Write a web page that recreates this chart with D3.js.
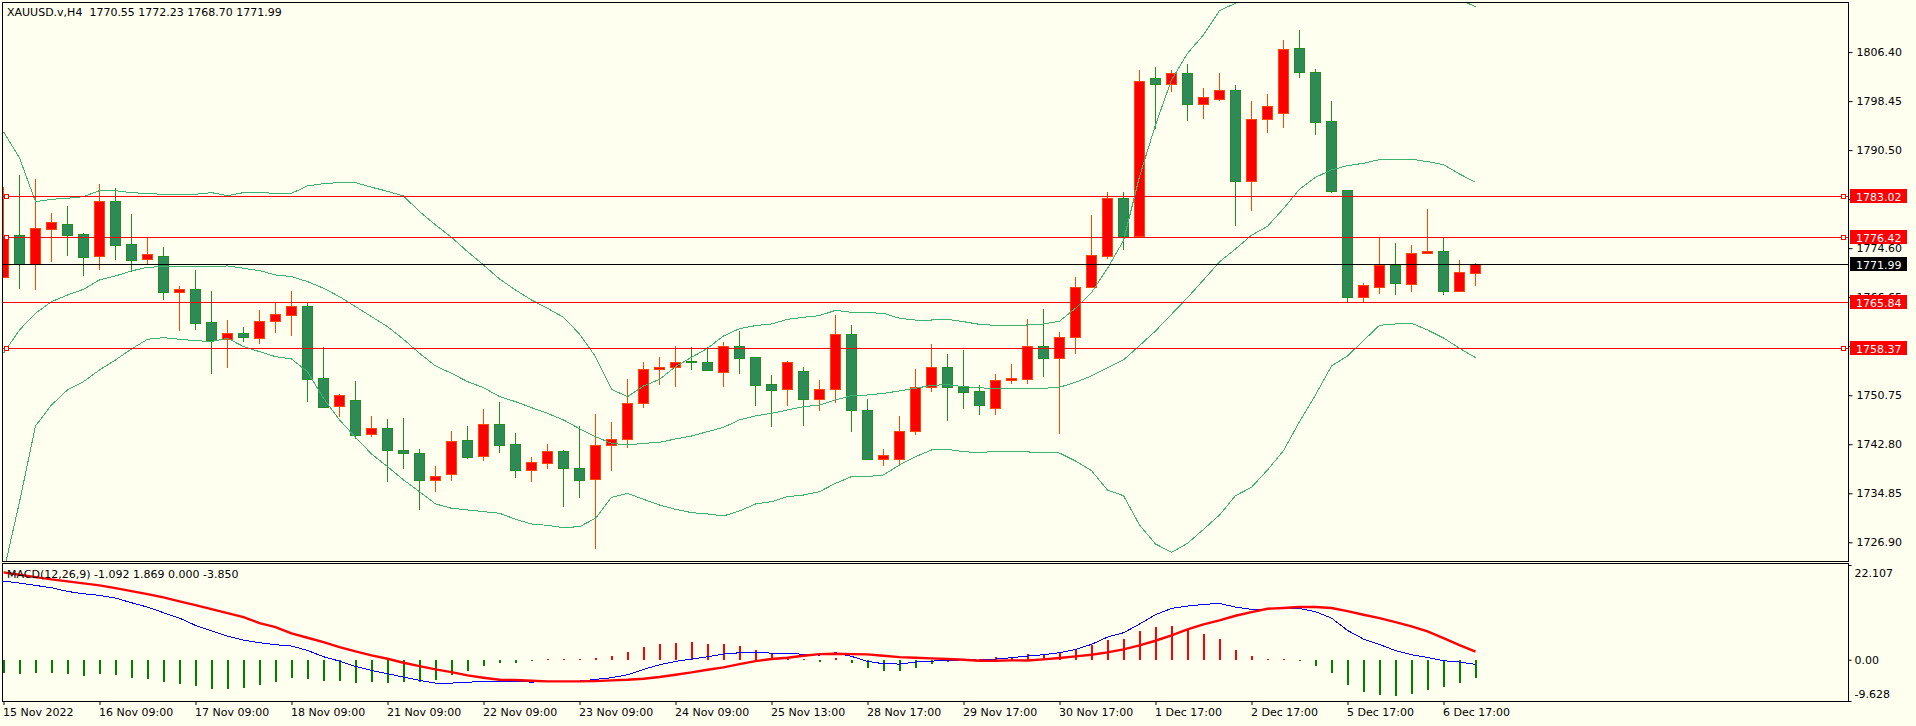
<!DOCTYPE html>
<html><head><meta charset="utf-8">
<script src="https://cdn.jsdelivr.net/npm/d3@7"></script>
<style>
html,body{margin:0;padding:0;background:#FFFFF0;overflow:hidden;}
svg{display:block;}
text{font-family:"DejaVu Sans",Verdana,sans-serif;font-size:11px;}
</style></head><body>
<svg id="c" width="1916" height="726"></svg>
<script>
// ---------- DATA ----------
const headerText = "XAUUSD.v,H4  1770.55 1772.23 1768.70 1771.99";
const macdHeaderText = "MACD(12,26,9) -1.092 1.869 0.000 -3.850";
const timeLabels = ["15 Nov 2022","16 Nov 09:00","17 Nov 09:00","18 Nov 09:00","21 Nov 09:00","22 Nov 09:00","23 Nov 09:00","24 Nov 09:00","25 Nov 13:00","28 Nov 17:00","29 Nov 17:00","30 Nov 17:00","1 Dec 17:00","2 Dec 17:00","5 Dec 17:00","6 Dec 17:00"];
const barsPerLabel = 6;
const priceTicks = [1806.40,1798.45,1790.50,1782.55,1774.60,1766.65,1758.70,1750.75,1742.80,1734.85,1726.90];
const macdTicks = [22.107,0,-9.628];
const macdTickLabels = ["22.107","0.00","-9.628"];
const levelPrices = [1783.02,1776.42,1765.84,1758.37];
const levelMarked = [true,true,false,true];
const bidPrice = 1771.99;

const openP = [1769.99,1776.69,1772.10,1777.77,1778.47,1776.85,1773.39,1782.20,1775.23,1772.80,
1773.28,1767.45,1767.93,1762.58,1759.93,1760.85,1759.99,1762.74,1763.72,1765.23,
1753.50,1748.96,1749.93,1744.42,1745.39,1741.82,1741.34,1737.06,1737.93,1743.44,
1740.85,1746.04,1742.79,1738.57,1739.82,1741.66,1738.90,1737.12,1742.63,1743.60,
1749.44,1754.95,1755.28,1756.25,1756.09,1754.58,1758.68,1756.90,1752.52,1751.71,
1754.63,1750.20,1751.71,1760.63,1748.31,1740.36,1740.36,1744.90,1752.03,1755.28,
1752.03,1751.39,1748.74,1753.18,1753.45,1758.69,1756.85,1760.15,1768.37,1773.40,
1782.69,1776.64,1802.16,1801.29,1802.97,1798.05,1798.86,1800.21,1785.56,1795.51,
1796.59,1807.02,1803.13,1795.18,1784.00,1766.75,1768.26,1771.83,1768.86,1773.77,
1774.10,1767.72,1770.55];
const highP = [1784.47,1786.47,1785.83,1780.37,1781.45,1777.07,1785.02,1784.37,1780.15,1776.31,
1774.80,1768.47,1771.07,1767.61,1762.96,1761.82,1764.58,1765.77,1767.66,1765.66,
1758.58,1750.96,1753.07,1747.39,1746.90,1747.07,1742.04,1739.34,1744.96,1745.77,
1748.53,1749.61,1744.57,1740.74,1742.84,1741.80,1745.76,1747.71,1746.41,1753.39,
1756.14,1756.95,1758.74,1758.58,1758.58,1759.39,1761.17,1756.90,1754.04,1756.31,
1755.33,1753.22,1763.77,1762.14,1750.14,1742.03,1747.39,1755.01,1759.06,1757.44,
1758.04,1752.36,1754.20,1755.83,1763.12,1764.75,1761.02,1769.94,1779.99,1783.72,
1783.72,1803.51,1803.99,1803.51,1804.48,1800.59,1803.02,1801.07,1798.48,1799.62,
1808.37,1809.99,1803.67,1798.48,1784.00,1769.02,1776.37,1775.45,1775.13,1780.96,
1776.37,1772.69,1772.23];
const lowP = [1769.90,1768.20,1768.04,1772.53,1773.50,1770.31,1771.28,1772.91,1770.85,1772.26,
1766.42,1761.39,1761.55,1754.42,1755.39,1759.61,1759.28,1761.07,1760.58,1749.88,
1748.90,1747.44,1743.88,1744.20,1736.90,1739.01,1732.36,1735.28,1737.01,1740.63,
1740.31,1741.61,1737.55,1736.90,1739.01,1732.84,1734.30,1726.03,1738.68,1742.41,
1748.90,1752.58,1752.31,1755.06,1754.90,1752.31,1754.41,1749.17,1745.82,1749.17,
1745.98,1748.41,1749.71,1745.01,1740.36,1739.44,1739.60,1744.47,1751.49,1746.79,
1748.74,1747.76,1747.76,1752.80,1752.80,1753.93,1744.69,1757.66,1768.26,1773.07,
1774.53,1776.37,1794.16,1800.16,1795.40,1795.78,1798.70,1778.37,1780.80,1793.45,
1794.26,1802.43,1793.13,1783.72,1766.04,1765.88,1767.34,1767.18,1767.67,1773.77,
1767.18,1767.72,1768.70];
const closeP = [1776.37,1771.99,1777.83,1778.80,1776.80,1773.23,1782.20,1775.18,1772.74,1773.61,
1767.45,1767.93,1762.53,1759.77,1760.80,1760.15,1762.74,1763.88,1765.23,1753.44,
1748.90,1750.74,1744.36,1745.39,1741.82,1741.34,1737.06,1737.60,1743.28,1740.79,
1746.04,1742.74,1738.57,1739.87,1741.66,1738.90,1737.06,1742.63,1743.60,1749.44,
1754.95,1755.28,1756.09,1756.09,1754.90,1758.68,1756.85,1752.47,1751.66,1756.09,
1750.20,1751.71,1760.63,1748.31,1740.36,1741.01,1744.90,1752.03,1755.28,1752.03,
1751.33,1749.22,1753.17,1753.50,1758.69,1756.85,1760.15,1768.26,1773.45,1782.69,
1776.64,1801.72,1801.29,1802.97,1798.05,1799.07,1800.21,1785.56,1795.51,1797.61,
1806.86,1803.24,1795.13,1783.94,1766.75,1768.58,1771.83,1769.02,1773.77,1774.10,
1767.72,1770.69,1771.99];

const bbUpper = [1793.50,1789.23,1782.15,1782.53,1782.69,1782.96,1783.93,1783.93,1783.61,1783.45,
1783.34,1783.34,1783.34,1783.61,1783.12,1783.61,1783.61,1783.50,1783.50,1784.69,
1785.07,1785.23,1785.23,1784.48,1783.83,1783.07,1780.53,1778.37,1776.37,1774.04,
1771.88,1769.60,1767.82,1766.20,1764.85,1763.39,1760.68,1757.01,1751.71,1750.52,
1752.25,1753.33,1755.39,1756.90,1758.36,1760.36,1761.55,1762.04,1762.31,1763.06,
1763.39,1763.66,1764.52,1764.20,1764.14,1764.04,1763.23,1762.95,1762.95,1763.06,
1762.68,1762.25,1762.09,1761.99,1762.15,1762.31,1762.75,1764.85,1767.40,1771.34,
1775.83,1786.21,1794.59,1801.89,1806.21,1809.18,1813.13,1814.32,1817.5,1817.7,
1820.3,1821.8,1821.4,1819.1,1818.9,1817.1,1815.8,1815.7,1815.6,1815.9,
1816.3,1814.9,1813.78];
const bbMiddle = [1757.55,1761.34,1764.04,1765.93,1767.01,1767.93,1769.45,1770.10,1770.91,1771.50,
1771.61,1771.61,1771.61,1771.61,1771.72,1771.34,1770.96,1770.26,1769.99,1769.18,
1768.10,1766.74,1765.12,1763.50,1761.88,1759.82,1757.55,1755.50,1754.31,1752.96,
1751.99,1750.53,1749.71,1748.74,1747.82,1746.74,1745.33,1744.03,1742.95,1742.68,
1742.95,1743.11,1743.66,1744.14,1744.84,1745.55,1746.74,1747.39,1747.82,1748.36,
1748.90,1749.17,1749.98,1750.68,1750.79,1751.06,1751.44,1751.87,1752.36,1752.47,
1752.14,1751.98,1751.76,1751.88,1751.88,1751.88,1752.04,1752.85,1753.88,1755.18,
1756.48,1758.80,1761.18,1763.88,1766.58,1769.45,1772.37,1774.48,1776.69,1778.15,
1781.02,1784.15,1786.10,1787.29,1787.99,1788.37,1788.97,1789.02,1789.02,1788.64,
1788.15,1786.64,1785.29];
const bbLower = [1722.00,1733.44,1745.77,1749.17,1751.61,1752.96,1754.85,1756.47,1758.26,1759.82,
1760.09,1759.82,1759.61,1759.45,1759.99,1758.64,1757.82,1757.01,1756.63,1754.58,
1750.26,1746.74,1743.93,1741.23,1739.17,1737.01,1735.12,1733.12,1732.42,1732.15,
1731.88,1731.61,1730.63,1729.87,1729.65,1729.28,1729.44,1730.79,1734.19,1734.84,
1733.87,1732.95,1732.25,1731.71,1731.49,1731.17,1731.98,1733.11,1733.49,1734.30,
1734.57,1735.11,1736.46,1737.55,1737.55,1737.82,1739.44,1740.79,1741.87,1741.98,
1741.60,1741.44,1741.66,1741.66,1741.55,1741.49,1741.38,1740.09,1738.52,1735.38,
1734.46,1729.71,1726.63,1725.27,1726.73,1729.00,1731.33,1734.46,1735.82,1738.63,
1741.76,1746.47,1750.80,1755.50,1757.12,1759.61,1762.10,1762.31,1762.42,1761.34,
1760.04,1758.37,1756.85];

const macdMain = [18.36,17.89,17.34,16.80,15.94,15.40,15.01,14.39,13.30,12.29,
10.97,9.72,8.01,6.77,5.52,4.59,3.97,3.50,3.19,2.18,
0.70,-0.31,-1.56,-2.49,-3.27,-4.04,-4.82,-5.44,-5.44,-5.29,
-4.98,-4.98,-5.13,-5.21,-5.13,-5.13,-4.98,-4.59,-4.20,-3.50,
-2.26,-1.17,-0.39,0.16,0.70,1.32,1.63,1.63,1.56,1.56,
1.24,1.09,1.63,0.78,-0.39,-0.93,-1.01,-0.54,-0.31,-0.23,
0.00,-0.08,0.16,0.47,0.86,1.17,1.63,2.41,3.58,5.29,
6.30,8.32,10.50,11.98,12.52,12.91,13.14,12.29,11.74,11.82,
12.13,11.98,11.20,9.72,6.84,4.82,3.58,2.10,1.17,0.54,
-0.23,-0.54,-1.092];
const macdSignal = [20.38,19.83,19.29,18.74,18.28,17.81,17.34,16.72,16.02,15.32,
14.54,13.61,12.76,11.82,10.89,9.96,8.56,7.62,6.14,5.13,
4.12,2.96,1.95,1.01,0.23,-0.70,-1.48,-2.26,-2.88,-3.66,
-4.20,-4.67,-4.74,-4.90,-5.06,-5.06,-5.06,-4.98,-4.82,-4.67,
-4.43,-4.04,-3.50,-2.96,-2.33,-1.79,-1.01,-0.31,0.16,0.47,
0.93,1.32,1.40,1.32,1.24,0.93,0.62,0.47,0.31,0.16,
0.00,-0.23,-0.23,-0.16,-0.16,0.08,0.39,0.78,1.17,1.71,
2.41,3.34,4.43,5.68,7.08,8.24,9.18,10.27,11.12,11.90,
12.06,12.29,12.29,12.06,11.36,10.50,9.72,8.79,7.78,6.61,
5.06,3.42,1.869];
const macdHist = [-3.03,-3.27,-3.03,-3.03,-3.27,-3.73,-3.27,-3.50,-4.20,-4.43,
-5.13,-5.60,-6.07,-6.77,-6.77,-6.53,-5.83,-5.13,-4.20,-4.43,
-4.90,-4.90,-5.37,-5.13,-5.37,-5.13,-5.13,-4.67,-3.50,-2.57,
-1.40,-0.70,-0.78,-0.31,0.16,0.16,0.16,0.39,0.86,1.79,
2.96,3.66,3.89,4.12,3.66,3.66,3.19,2.26,1.32,0.62,
0.16,-0.54,0.39,-0.70,-1.87,-2.57,-2.57,-1.87,-0.93,-0.47,
-0.05,0.08,0.62,0.62,1.32,1.32,1.56,2.57,3.42,4.59,
4.82,6.69,7.62,7.86,6.92,5.99,4.82,2.26,0.86,0.16,
0.16,-0.39,-1.40,-3.03,-5.83,-7.47,-8.17,-8.40,-7.93,-7.00,
-6.30,-5.37,-4.20];

// ---------- LAYOUT ----------
const W = 1916, H = 726;
const L = 2, AX = 1848, MT = 2, MB = 561, DT = 563, DB = 701;
const BG = "#FFFFF0";
const n = closeP.length;
const idx = d3.range(n);

const x = d3.scaleLinear().domain([0, n - 1]).range([3, 3 + 16 * (n - 1)]);
const y = d3.scaleLinear().domain([1726.90, 1806.40]).range([542.3, 52.1]);
const ym = d3.scaleLinear().domain([-9.628, 22.107]).range([DB, 565]);

const svg = d3.select("#c");
svg.append("rect").attr("width", W).attr("height", H).attr("fill", BG);

const defs = svg.append("defs");
defs.append("clipPath").attr("id", "clipMain").append("rect")
  .attr("x", L + 1).attr("y", MT + 1).attr("width", AX - L - 1).attr("height", MB - MT - 1);
defs.append("clipPath").attr("id", "clipMacd").append("rect")
  .attr("x", L + 1).attr("y", DT + 1).attr("width", AX - L - 1).attr("height", DB - DT - 1);

// ---------- MAIN PANEL ----------
const gMain = svg.append("g").attr("clip-path", "url(#clipMain)");
const cx = i => Math.round(x(i));

// candles
const bull = i => closeP[i] >= openP[i];
gMain.append("g").attr("shape-rendering", "crispEdges").selectAll("line").data(idx).join("line")
  .attr("x1", i => cx(i) + 0.5).attr("x2", i => cx(i) + 0.5)
  .attr("y1", i => Math.round(y(highP[i]))).attr("y2", i => Math.round(y(lowP[i])) + 1)
  .attr("stroke", i => bull(i) ? "#FF4500" : "#228B22").attr("stroke-width", 1);
gMain.append("g").attr("shape-rendering", "crispEdges").selectAll("rect").data(idx).join("rect")
  .attr("x", i => cx(i) - 5 + 0.5)
  .attr("y", i => Math.round(y(Math.max(openP[i], closeP[i]))) + 0.5)
  .attr("width", 10)
  .attr("height", i => Math.max(1, Math.round(y(Math.min(openP[i], closeP[i]))) - Math.round(y(Math.max(openP[i], closeP[i])))))
  .attr("fill", i => bull(i) ? "#FF0000" : "#2E8B57")
  .attr("stroke", i => bull(i) ? "#FF4500" : "#228B22").attr("stroke-width", 1);

// bollinger bands
const bandLine = arr => d3.line().x(i => x(i) + 0.5).y(i => y(arr[i]))(idx);
[bbUpper, bbMiddle, bbLower].forEach(arr => {
  gMain.append("path").attr("d", bandLine(arr)).attr("fill", "none")
    .attr("stroke", "#3CB371").attr("stroke-width", 1).attr("shape-rendering", "crispEdges");
});

// level lines
const gLev = gMain.append("g").attr("shape-rendering", "crispEdges");
gLev.selectAll("line.lv").data(levelPrices).join("line").attr("class", "lv")
  .attr("x1", L).attr("x2", AX)
  .attr("y1", p => Math.round(y(p)) + 0.5).attr("y2", p => Math.round(y(p)) + 0.5)
  .attr("stroke", "#FF0000").attr("stroke-width", 1);
gLev.append("line").attr("x1", L).attr("x2", AX)
  .attr("y1", Math.round(y(bidPrice)) + 0.5).attr("y2", Math.round(y(bidPrice)) + 0.5)
  .attr("stroke", "#000").attr("stroke-width", 1);
const marked = levelPrices.filter((p, k) => levelMarked[k]);
gLev.selectAll("rect.ml").data(marked).join("rect").attr("class", "ml")
  .attr("x", L + 2.5).attr("y", p => Math.round(y(p)) - 2 + 0.5).attr("width", 4).attr("height", 4)
  .attr("fill", BG).attr("stroke", "#FF0000");
gLev.selectAll("rect.mr").data(marked).join("rect").attr("class", "mr")
  .attr("x", AX - 6.5).attr("y", p => Math.round(y(p)) - 2 + 0.5).attr("width", 4).attr("height", 4)
  .attr("fill", BG).attr("stroke", "#FF0000");

// ---------- MACD PANEL ----------
const gM = svg.append("g").attr("clip-path", "url(#clipMacd)");
gM.append("g").attr("shape-rendering", "crispEdges").selectAll("rect").data(idx).join("rect")
  .attr("x", i => cx(i))
  .attr("y", i => Math.round(ym(Math.max(0, macdHist[i]))))
  .attr("width", 2)
  .attr("height", i => Math.max(1, Math.abs(Math.round(ym(macdHist[i])) - Math.round(ym(0)))))
  .attr("fill", i => macdHist[i] >= 0 ? "#FF0000" : "#008000");
gM.append("path").attr("d", d3.line().x(i => x(i) + 0.5).y(i => ym(macdMain[i]))(idx))
  .attr("fill", "none").attr("stroke", "#0000FF").attr("stroke-width", 1).attr("shape-rendering", "crispEdges");
gM.append("path").attr("d", d3.line().x(i => x(i) + 0.5).y(i => ym(macdSignal[i]))(idx))
  .attr("fill", "none").attr("stroke", "#FF0000").attr("stroke-width", 2.4);

// ---------- FRAMES ----------
const gF = svg.append("g").attr("shape-rendering", "crispEdges").attr("fill", "none").attr("stroke", "#000");
gF.append("rect").attr("x", L + 0.5).attr("y", MT + 0.5).attr("width", AX - L).attr("height", MB - MT);
gF.append("rect").attr("x", L + 0.5).attr("y", DT + 0.5).attr("width", AX - L).attr("height", DB - DT);

// ---------- AXES ----------
const yAxis = d3.axisRight(y).tickValues(priceTicks).tickSize(4).tickPadding(4).tickFormat(d3.format(".2f"));
const gy = svg.append("g").attr("transform", `translate(${AX + 0.5},0)`).call(yAxis);
gy.select(".domain").remove();
gy.selectAll("text").attr("fill", "#000").attr("font-size", 11).attr("font-family", "DejaVu Sans");

const mAxis = d3.axisRight(ym).tickValues(macdTicks).tickSize(3).tickPadding(3)
  .tickFormat((d, k) => macdTickLabels[k]);
const gmy = svg.append("g").attr("transform", `translate(${AX + 0.5},0)`).call(mAxis);
gmy.select(".domain").remove();
gmy.selectAll("text").attr("fill", "#000").attr("font-size", 11).attr("font-family", "DejaVu Sans")
  .attr("dy", (d, k) => k === 0 ? "1.0em" : (k === macdTicks.length - 1 ? "-0.35em" : "0.32em"));

const tickIdx = timeLabels.map((t, k) => k * barsPerLabel);
const xAxis = d3.axisBottom(x).tickValues(tickIdx).tickSize(4).tickPadding(3)
  .tickFormat((d, k) => timeLabels[k]);
const gx = svg.append("g").attr("transform", `translate(0.5,${DB})`).call(xAxis);
gx.select(".domain").remove();
gx.selectAll("text").attr("text-anchor", "start").attr("x", -1).attr("fill", "#000")
  .attr("font-size", 11).attr("font-family", "DejaVu Sans");

// price label boxes
const boxes = levelPrices.map(p => ({p, fill: "#FF0000"})).concat([{p: bidPrice, fill: "#000000"}]);
const gB = svg.append("g");
gB.selectAll("rect").data(boxes).join("rect")
  .attr("x", AX + 2).attr("y", d => Math.round(y(d.p)) - 7).attr("width", 57).attr("height", 14)
  .attr("fill", d => d.fill);
gB.selectAll("text").data(boxes).join("text")
  .attr("x", AX + 8).attr("y", d => Math.round(y(d.p)) + 4.5)
  .attr("fill", "#FFFFFF").text(d => d3.format(".2f")(d.p));

// headers
svg.append("text").attr("x", 7).attr("y", 16).attr("fill", "#000").style("white-space", "pre").text(headerText);
svg.append("text").attr("x", 7).attr("y", 578).attr("fill", "#000").style("white-space", "pre").text(macdHeaderText);
</script>
</body></html>
